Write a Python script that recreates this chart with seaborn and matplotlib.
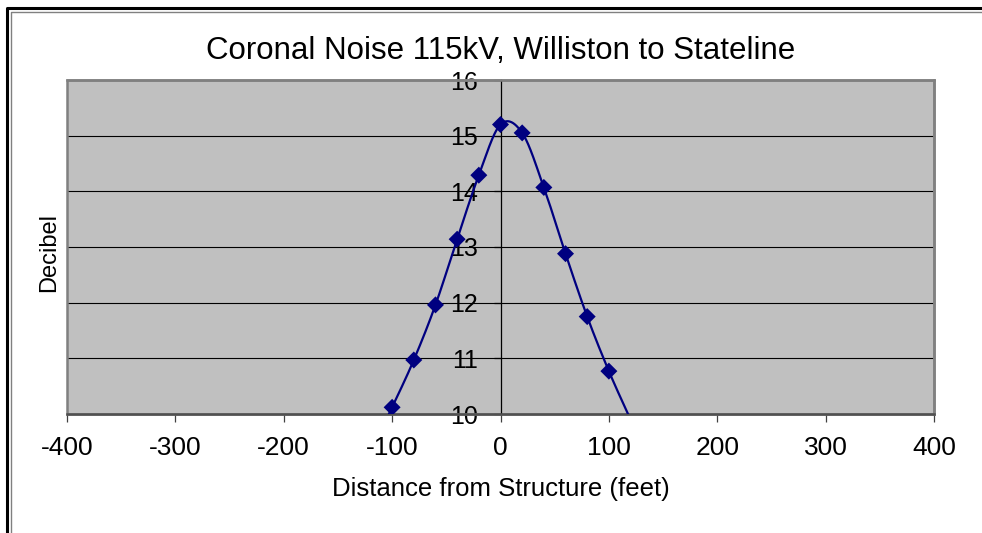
# grafico de ruido coronal estilo Excel
import numpy as np
import pandas as pd
import matplotlib
matplotlib.use("Agg")
import matplotlib.pyplot as plt
import seaborn as sns
from matplotlib.lines import Line2D
from matplotlib.patches import Rectangle

# datos
distance = [-120, -100, -80, -60, -40, -20, 0, 20, 40, 60, 80, 100, 120]
decibel = [9.3, 10.12, 10.97, 11.96, 13.14, 14.29, 15.20, 15.05, 14.07, 12.88, 11.75, 10.77, 9.9]
x_ticks = [-400, -300, -200, -100, 0, 100, 200, 300, 400]
y_ticks = [10, 11, 12, 13, 14, 15, 16]

title = "Coronal Noise 115kV, Williston to Stateline"
x_label = "Distance from Structure (feet)"
y_label = "Decibel"

df = pd.DataFrame({"distance": distance, "decibel": decibel})


# curva suavizada como la de Excel (bezier tipo catmull-rom)
def smooth_curve(xs, ys, n=40):
    p = np.column_stack([xs, ys]).astype(float)
    p = np.vstack([p[0], p, p[-1]])
    out = []
    t = np.linspace(0, 1, n)[:, None]
    for i in range(1, len(p) - 2):
        p0, p1, p2, p3 = p[i - 1], p[i], p[i + 1], p[i + 2]
        b1 = p1 + (p2 - p0) / 6
        b2 = p2 - (p3 - p1) / 6
        seg = ((1 - t) ** 3) * p1 + 3 * ((1 - t) ** 2) * t * b1 + 3 * (1 - t) * t ** 2 * b2 + t ** 3 * p2
        out.append(seg)
    out = np.vstack(out)
    return out[:, 0], out[:, 1]


sx, sy = smooth_curve(df["distance"], df["decibel"])
curve = pd.DataFrame({"x": sx, "y": sy})

sns.set_style("white")
plt.rcParams["font.family"] = ["Liberation Sans", "DejaVu Sans"]
plt.rcParams["axes.unicode_minus"] = False
plt.rcParams["text.color"] = "black"
plt.rcParams["axes.labelcolor"] = "black"
plt.rcParams["xtick.color"] = "black"
plt.rcParams["ytick.color"] = "black"

fig = plt.figure(figsize=(9.82, 5.33), dpi=100)
ax = fig.add_axes([67 / 982, 1 - 414 / 533, 867 / 982, 334 / 533])
ax.set_facecolor("#C0C0C0")

sns.lineplot(data=curve, x="x", y="y", sort=False, estimator=None,
             color="#000080", linewidth=1.6, ax=ax, zorder=3)

visible = df[df["decibel"] >= 10]
sns.scatterplot(data=visible, x="distance", y="decibel", marker="D", s=75,
                color="#000080", edgecolor="none", ax=ax, zorder=4)

ax.set_xlim(-400, 400)
ax.set_ylim(10, 16)
ax.set_xticks(x_ticks)
ax.set_yticks(y_ticks)
ax.set_xticklabels([str(v) for v in x_ticks])
ax.set_yticklabels([str(v) for v in y_ticks])

# linea horizontal de grilla
ax.yaxis.grid(True, color="black", linewidth=0.8)
ax.xaxis.grid(False)
ax.set_axisbelow(True)

# eje y en el centro (x = 0)
ax.spines["left"].set_position(("data", 0))
ax.spines["left"].set_color("black")
ax.spines["left"].set_linewidth(0.9)
ax.spines["left"].set_zorder(2)
ax.spines["top"].set_color("#808080")
ax.spines["top"].set_linewidth(1.8)
ax.spines["right"].set_color("#808080")
ax.spines["right"].set_linewidth(1.8)
ax.spines["bottom"].set_color("#505050")
ax.spines["bottom"].set_linewidth(1.8)
ax.add_patch(Rectangle((0, 0), 1, 1, transform=ax.transAxes, fill=False,
                       edgecolor="#808080", linewidth=1.8, clip_on=False, zorder=1))

ax.tick_params(axis="x", direction="out", length=6, width=0.9, color="#404040",
               labelcolor="black", labelsize=19, pad=10, bottom=True)
ax.tick_params(axis="y", direction="out", length=5, width=0.9, color="black",
               labelcolor="black", labelsize=18, pad=11, left=True)

ax.set_xlabel(x_label, fontsize=18.5, labelpad=12, color="black")
ax.set_ylabel("")
fig.text(49 / 982, 1 - 252 / 533, y_label, rotation=90, fontsize=17,
         ha="center", va="center", color="black")
ax.set_title(title, fontsize=22.5, pad=15, color="black")

# marco doble alrededor del grafico
fig.add_artist(Line2D([7 / 982, 7 / 982, 1.1], [-0.1, 1 - 8 / 533, 1 - 8 / 533],
                      transform=fig.transFigure, color="black", linewidth=2.2))
fig.add_artist(Line2D([10.5 / 982, 10.5 / 982, 1.1], [-0.1, 1 - 11.5 / 533, 1 - 11.5 / 533],
                      transform=fig.transFigure, color="#808080", linewidth=1.0))

fig.savefig("out.png", dpi=100)
